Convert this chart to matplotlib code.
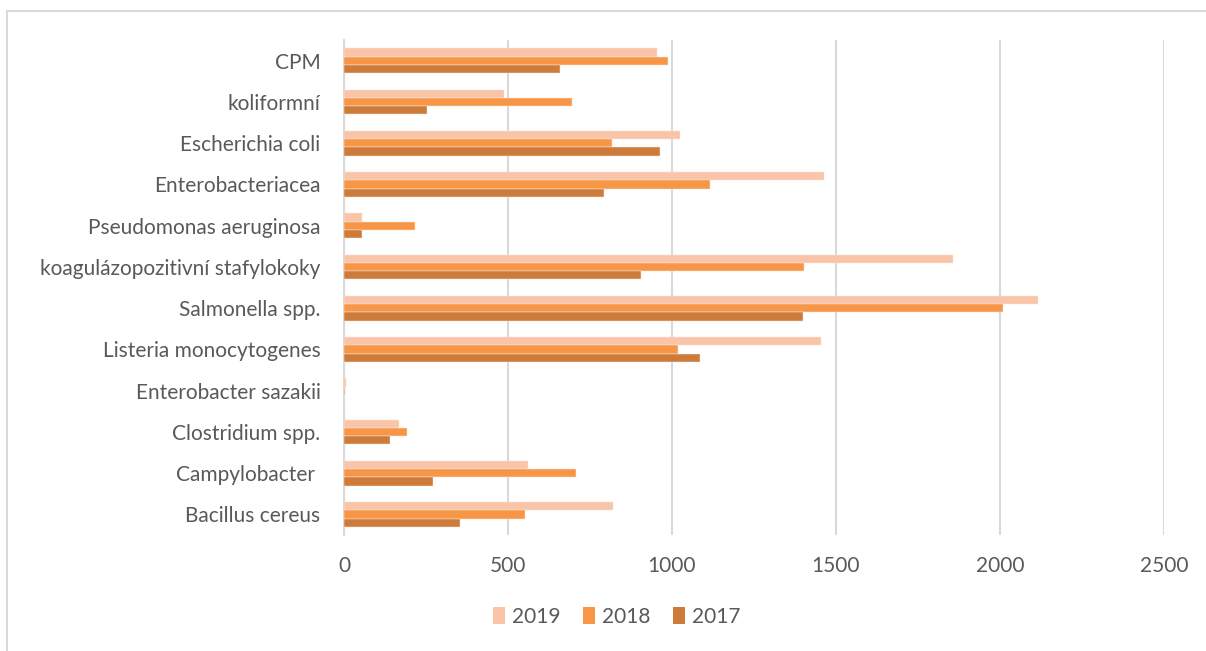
import matplotlib
matplotlib.use("Agg")
import matplotlib.pyplot as plt
import numpy as np
from matplotlib.patches import Rectangle, Patch

categories = [
    "CPM",
    "koliformní",
    "Escherichia coli",
    "Enterobacteriacea",
    "Pseudomonas aeruginosa",
    "koagulázopozitivní stafylokoky",
    "Salmonella spp.",
    "Listeria monocytogenes",
    "Enterobacter sazakii",
    "Clostridium spp.",
    "Campylobacter ",
    "Bacillus cereus",
]
values_2019 = [955, 488, 1023, 1464, 56, 1858, 2115, 1453, 5, 168, 561, 820]
values_2018 = [989, 696, 818, 1117, 216, 1402, 2009, 1019, 3, 192, 706, 553]
values_2017 = [659, 252, 963, 792, 56, 906, 1398, 1085, 1, 141, 270, 355]
years = ["2019", "2018", "2017"]
colors = ["#F9C4A8", "#F79646", "#CC7B3A"]
xticks = [0, 500, 1000, 1500, 2000, 2500]

W, H = 1206, 651
fig = plt.figure(figsize=(W / 100, H / 100), dpi=100)
fig.patch.set_facecolor("white")

# outer chart frame
fig.add_artist(Rectangle((7 / W, -0.1), 1.2, 1 - 11 / H + 0.1,
                         transform=fig.transFigure, fill=False,
                         edgecolor="#D9D9D9", lw=1.5))

left, right, top, bottom = 344, 1164, 40, 535
ax = fig.add_axes([left / W, 1 - bottom / H, (right - left) / W, (bottom - top) / H])

n = len(categories)
y = np.arange(n)
bh = 0.2
series = [values_2019, values_2018, values_2017]
for i, (vals, c) in enumerate(zip(series, colors)):
    ax.barh(y + (i - 1) * bh, vals, height=bh, color=c,
            edgecolor="#FCE4D6", linewidth=0.35, zorder=3)

ax.set_ylim(n - 0.5, -0.5)
ax.set_xlim(0, 2500)
ax.set_xticks(xticks)
ax.set_xticklabels([str(t) for t in xticks])
ax.set_yticks(y)
ax.set_yticklabels(categories)

font = "Lato"
for lab in ax.get_yticklabels() + ax.get_xticklabels():
    lab.set_fontfamily(font)
    lab.set_fontsize(15)
    lab.set_color("#595959")

ax.tick_params(axis="both", length=0)
ax.tick_params(axis="y", pad=17)
ax.tick_params(axis="x", pad=15)
ax.grid(axis="x", color="#D9D9D9", lw=1.5, zorder=0)
for s in ["top", "right", "bottom"]:
    ax.spines[s].set_visible(False)
ax.spines["left"].set_color("#D9D9D9")
ax.spines["left"].set_linewidth(1.5)

handles = [Patch(facecolor=c, edgecolor="none") for c in colors]
leg = fig.legend(handles, years, loc="center", bbox_to_anchor=(617 / W, 1 - 617 / H),
                 ncol=3, frameon=False, handlelength=0.55, handleheight=0.9,
                 handletextpad=0.35, columnspacing=1.1,
                 prop={"family": font, "size": 15})
for t in leg.get_texts():
    t.set_color("#595959")

fig.savefig("out.png", dpi=100, facecolor="white")
